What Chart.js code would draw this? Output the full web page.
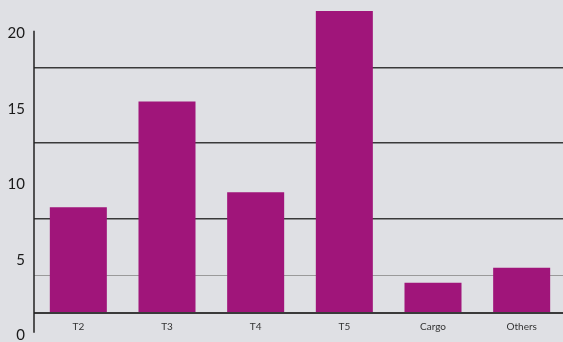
<!DOCTYPE html>
<html>
<head>
<meta charset="utf-8">
<script src="https://cdn.jsdelivr.net/npm/chart.js@4"></script>
<style>
  html, body { margin: 0; padding: 0; background: #dfe0e4; overflow: hidden; }
  #wrap { width: 566px; height: 342px; }
</style>
</head>
<body>
<div id="wrap"><canvas id="chart"></canvas></div>
<script>
  // data
  const categories = ['T2', 'T3', 'T4', 'T5', 'Cargo', 'Others'];
  const values = [7, 14, 8, 20, 2, 3];
  const yLabels = [0, 5, 10, 15, 20];
  const gridValues = [0, 2.5, 6.25, 11.25, 16.25];
  const labelShift = 1.5; // printed labels sit lower than the bar scale

  // vertical axis line, drawn against the label scale
  const axisLine = {
    id: 'axisLine',
    afterDraw(chart) {
      const s = chart.scales.yl;
      const ctx = chart.ctx;
      ctx.save();
      ctx.strokeStyle = '#222';
      ctx.lineWidth = 1.5;
      ctx.beginPath();
      ctx.moveTo(s.right, s.getPixelForValue(20.2));
      ctx.lineTo(s.right, s.getPixelForValue(0.2));
      ctx.stroke();
      ctx.restore();
    }
  };

  new Chart(document.getElementById('chart'), {
    type: 'bar',
    data: {
      labels: categories,
      datasets: [{
        data: values,
        backgroundColor: '#a0157a',
        categoryPercentage: 1,
        barPercentage: 0.643,
      }],
    },
    options: {
      responsive: true,
      maintainAspectRatio: false,
      animation: false,
      layout: { padding: { top: 11, left: 0, right: 0, bottom: 0 } },
      plugins: { legend: { display: false }, tooltip: { enabled: false } },
      scales: {
        x: {
          grid: { display: false },
          border: { display: false },
          ticks: { color: '#333', font: { family: 'Lato', size: 10 }, padding: 0 },
          afterFit: (s) => { s.height = 29; s.paddingLeft = 0; s.paddingRight = 0; },
        },
        y: {
          min: 0,
          max: 20,
          ticks: { display: false },
          border: { display: false },
          grid: {
            drawTicks: false,
            color: (c) => c.tick && c.tick.value === 2.5 ? '#9a9a9a' : '#3a3a3a',
            lineWidth: (c) => c.tick && c.tick.value === 2.5 ? 1 : (c.tick && c.tick.value === 0 ? 2 : 1.5),
          },
          afterBuildTicks: (s) => { s.ticks = gridValues.map(v => ({ value: v })); },
          afterFit: (s) => { s.width = 0; s.paddingTop = 0; s.paddingBottom = 0; },
        },
        yl: {
          position: 'left',
          min: labelShift,
          max: 20 + labelShift,
          grid: { display: false, drawTicks: false },
          border: { display: false },
          ticks: { color: '#1a1a1a', font: { family: 'Lato', size: 15 }, padding: 9 },
          afterBuildTicks: (s) => { s.ticks = yLabels.map(v => ({ value: v })); },
          afterFit: (s) => { s.width = 34; s.paddingTop = 0; s.paddingBottom = 0; },
        },
      },
    },
    plugins: [axisLine],
  });
</script>
</body>
</html>
